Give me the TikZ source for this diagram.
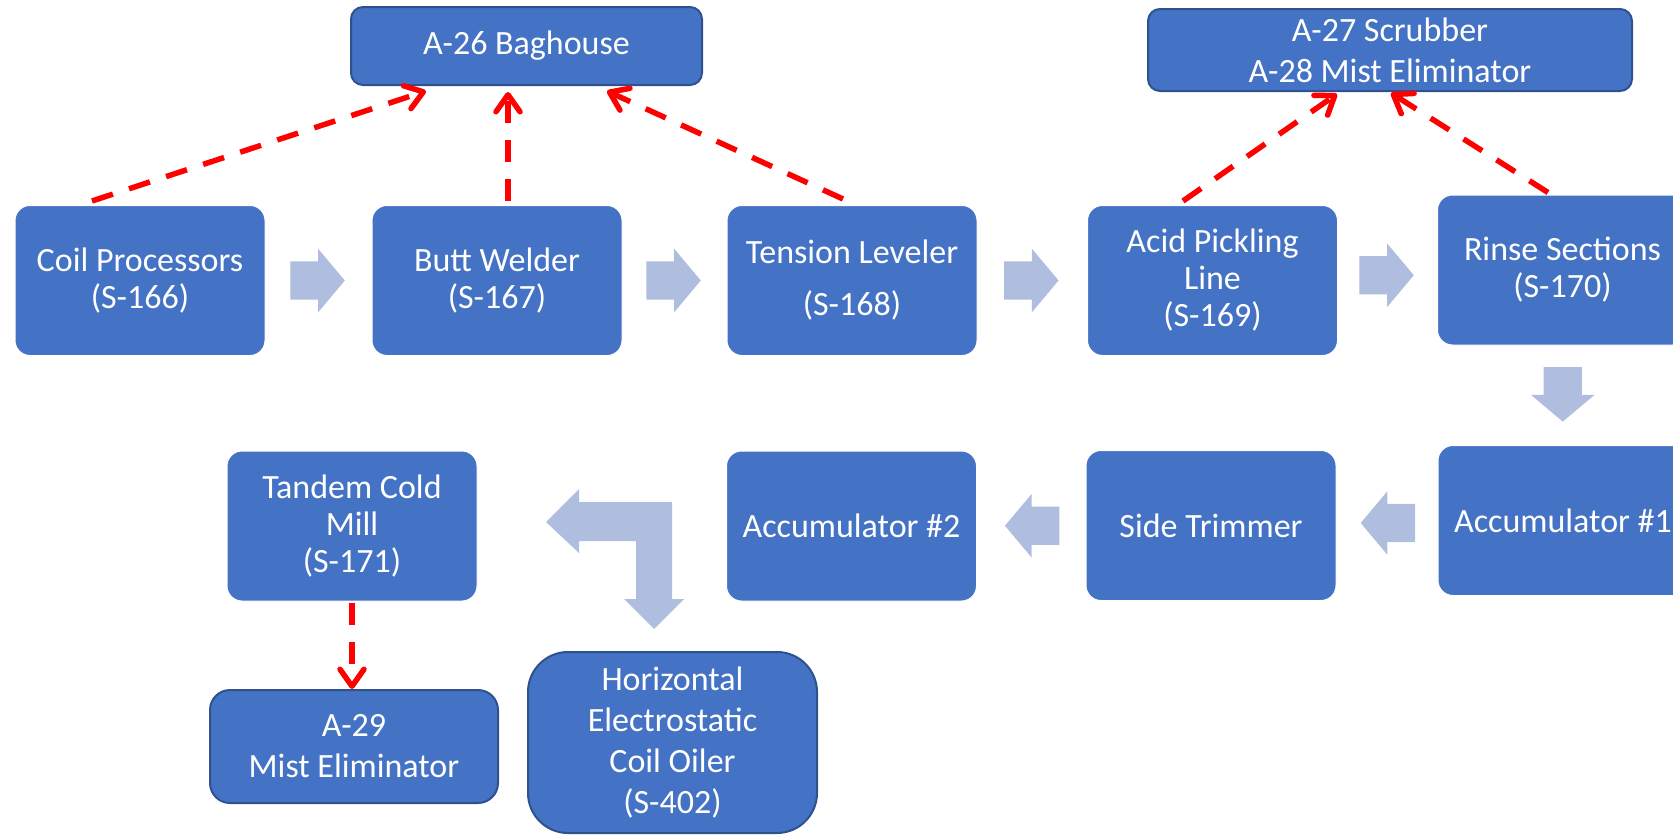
\documentclass[tikz,border=0pt]{standalone}
\usepackage{fontspec}
\setmainfont{Carlito}
\usetikzlibrary{shapes.arrows,arrows.meta}
\definecolor{boxblue}{HTML}{4472C4}
\definecolor{edgeblue}{HTML}{2F528F}
\definecolor{flowblue}{HTML}{AFBDDF}
\begin{document}
\begin{tikzpicture}[x=1pt,y=-1pt,
  proc/.style={rectangle,rounded corners=15pt,fill=boxblue,draw=white,line width=1pt,text=white,
    align=center,minimum width=250pt,minimum height=150pt,inner sep=2pt,font=\fontsize{34}{37}\selectfont},
  ctrl/.style={proc,draw=edgeblue,line width=2pt,rounded corners=12pt,font=\fontsize{34}{41}\selectfont},
  flow/.style={single arrow,fill=flowblue,draw=none,inner sep=19pt,minimum height=54pt,minimum width=63pt,
    single arrow head extend=12.5pt,single arrow tip angle=100,shape border rotate=#1,shift={(#1:-9pt)}},
  flow/.default=0,
  fume/.style={draw=red,line width=5.5pt,dash pattern=on 22pt off 17pt,
    -{Straight Barb[length=17pt,width=24pt,line cap=round,line join=round]}}]
\useasboundingbox (0,0) rectangle (1673,835);
\node[ctrl,minimum width=351pt,minimum height=78pt] (bag) at (526.5,46) {A-26 Baghouse};
\node[ctrl,minimum width=484pt,minimum height=82pt] (scr) at (1390,50) {A-27 Scrubber\\A-28 Mist Eliminator};
\node[proc] (coil) at (140,280.5) {Coil Processors\\(S-166)};
\node[proc] (butt) at (497,280.5) {Butt Welder\\(S-167)};
\node[proc] (tens) at (852,280.5) {Tension Leveler\\[15pt](S-168)};
\node[proc] (acid) at (1212.5,280.5) {Acid Pickling\\Line\\(S-169)};
\node[proc] (rinse) at (1562.5,270) {Rinse Sections\\(S-170)};
\node[proc] (acc1) at (1563,520.5) {Accumulator \#1};
\node[proc] (trim) at (1211,525.5) {Side Trimmer};
\node[proc] (acc2) at (851.5,526) {Accumulator \#2};
\node[proc] (tcm) at (352,526) {Tandem Cold\\Mill\\(S-171)};
\node[ctrl,minimum width=288pt,minimum height=113pt,rounded corners=20pt] (mist) at (354,746.5) {A-29\\Mist Eliminator};
\node[ctrl,minimum width=289pt,minimum height=181pt,rounded corners=40pt] (oil) at (672.5,742.5) {Horizontal\\Electrostatic\\Coil Oiler\\(S-402)};
\path (coil) -- (butt) node[midway,flow] (f1) {};
\path (butt) -- (tens) node[midway,flow] (f2) {};
\path (tens) -- (acid) node[midway,flow] (f3) {};
\path (acid) -- (rinse) node[midway,flow] (f4) {};
\path (rinse) -- (acc1) node[midway,flow=270,minimum height=52pt] (f5) {};
\path (acc1) -- (trim) node[midway,flow=180] (f6) {};
\path (trim) -- (acc2) node[midway,flow=180] (f7) {};
\fill[flowblue] (546,522) -- (579,489) -- (579,502) -- (672,502) -- (672,599) -- (684,599)
  -- (654,629) -- (624,599) -- (636,599) -- (636,541) -- (579,541) -- (579,553) -- cycle;
\draw[fume] ([xshift=-48pt,yshift=4pt]coil.north) -- ([xshift=-100.5pt,yshift=-5pt]bag.south);
\draw[fume] ([xshift=11pt,yshift=4pt]butt.north) -- ([xshift=-18.5pt,yshift=-6pt]bag.south);
\draw[fume] ([xshift=-9pt,yshift=6pt]tens.north) -- ([xshift=80.5pt,yshift=-5pt]bag.south);
\draw[fume] ([xshift=-29.5pt,yshift=4pt]acid.north) -- ([xshift=-53pt,yshift=-2pt]scr.south);
\draw[fume] ([xshift=-14.5pt,yshift=2pt]rinse.north) -- ([xshift=1pt,yshift=-1pt]scr.south);
\draw[fume] ([yshift=-1pt]tcm.south) -- ([xshift=-2pt]mist.north);
\end{tikzpicture}
\end{document}
